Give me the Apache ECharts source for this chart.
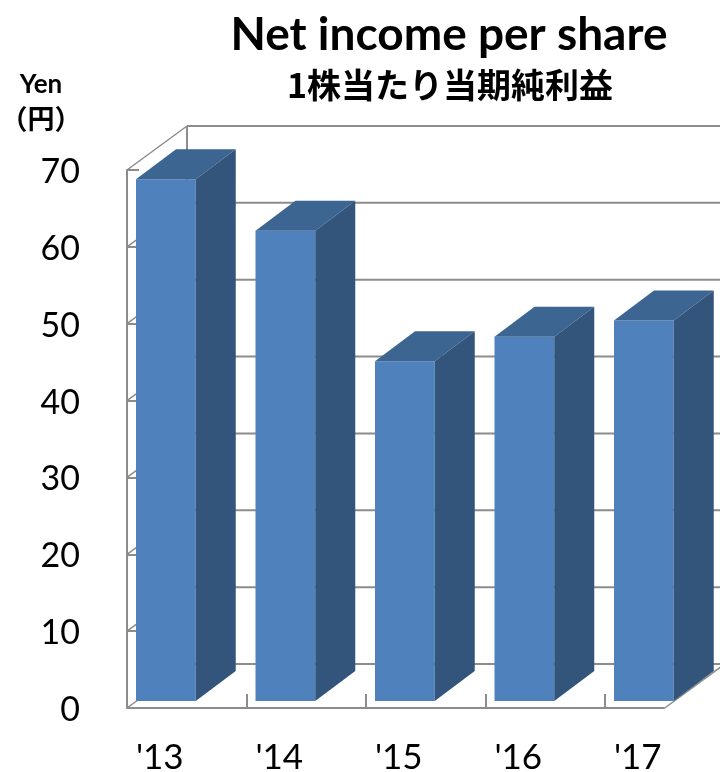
<!DOCTYPE html>
<html lang="ja">

<head>
  <meta charset="UTF-8">
  <title>Net income per share</title>
  <script src="https://cdnjs.cloudflare.com/ajax/libs/echarts/6.0.0/echarts.min.js"></script>
  <style>
    body {
      margin: 0;
      background-color: #fff;
    }
  </style>
</head>

<body>
  <div id="main" style="width: 720px;height:772px;"></div>
</body>
<script>
  const years = ["'13", "'14", "'15", "'16", "'17"];
  const netIncome = [67.9, 61.2, 44.2, 47.4, 49.5];
  const yTicks = [0, 10, 20, 30, 40, 50, 60, 70];

  // 3D look: the back wall sits up and to the right of the front plane
  const wallDx = 60, wallDy = -44;
  const barInsetX = 9, barInsetY = -7;
  const barDepthX = 40, barDepthY = -30;
  const gray = '#8c8c8c';

  function seg(x1, y1, x2, y2, width) {
    return {
      type: 'line',
      shape: { x1: x1, y1: y1, x2: x2, y2: y2 },
      style: { stroke: gray, lineWidth: width || 2 }
    };
  }

  function renderWalls(params, api) {
    const v = api.value(1);
    const p = api.coord([0, v]);
    const x0 = p[0] - api.size([1, 0])[0] / 2;
    const y = p[1];
    const children = [
      // back wall gridline and left wall diagonal
      seg(x0 + wallDx, y + wallDy, api.getWidth(), y + wallDy),
      seg(x0, y, x0 + wallDx, y + wallDy, 1.5)
    ];
    if (v === 70) {
      const bottom = api.coord([0, 0])[1];
      children.push(seg(x0 + wallDx, y + wallDy, x0 + wallDx, bottom + wallDy));
    }
    if (v === 0) {
      // floor edges end at the centre of the last category
      const end = api.coord([years.length - 1, 0])[0];
      children.push(seg(x0, y, end, y));
      children.push(seg(end, y, end + wallDx, y + wallDy, 1.5));
    }
    return { type: 'group', children: children };
  }

  function renderBar(params, api) {
    const top = api.coord([api.value(0), api.value(1)]);
    const base = api.coord([api.value(0), 0]);
    const band = api.size([1, 0])[0];
    const w = band * 0.5;
    const x = top[0] - band * 0.5 + barInsetX;
    const yTop = top[1] + barInsetY;
    const yBase = base[1] + barInsetY;
    return {
      type: 'group',
      children: [
        {
          type: 'rect',
          shape: { x: x, y: yTop, width: w, height: yBase - yTop },
          style: { fill: '#4f81bd' }
        },
        {
          type: 'polygon',
          shape: {
            points: [
              [x, yTop], [x + w, yTop],
              [x + w + barDepthX, yTop + barDepthY], [x + barDepthX, yTop + barDepthY]
            ]
          },
          style: { fill: '#3d6592' }
        },
        {
          type: 'polygon',
          shape: {
            points: [
              [x + w, yTop], [x + w + barDepthX, yTop + barDepthY],
              [x + w + barDepthX, yBase + barDepthY], [x + w, yBase]
            ]
          },
          style: { fill: '#33547b' }
        }
      ]
    };
  }

  var myChart = echarts.init(document.getElementById('main'));
  var option = {
    animation: false,
    textStyle: { fontFamily: 'Lato' },
    title: [
      {
        text: 'Net income per share', left: 449, top: 35, padding: 0, textAlign: 'center', textVerticalAlign: 'middle',
        textStyle: { fontFamily: 'Lato', fontSize: 46, fontWeight: 'bold', color: '#000' }
      },
      {
        text: '1株当たり当期純利益', left: 450, top: 85, padding: 0, textAlign: 'center', textVerticalAlign: 'middle',
        textStyle: { fontFamily: 'Noto Sans CJK JP', fontSize: 34, fontWeight: 'bold', color: '#000' }
      },
      {
        text: 'Yen', left: 41, top: 85, padding: 0, textAlign: 'center', textVerticalAlign: 'middle',
        textStyle: { fontFamily: 'Lato', fontSize: 26, fontWeight: 'bold', color: '#000' }
      },
      {
        text: '（円）', left: 41, top: 119, padding: 0, textAlign: 'center', textVerticalAlign: 'middle',
        textStyle: { fontFamily: 'Noto Sans CJK JP', fontSize: 27, fontWeight: 'bold', color: '#000' }
      }
    ],
    grid: { left: 127, top: 170, width: 597.5, height: 538, outerBoundsMode: 'none' },
    xAxis: {
      type: 'category',
      data: years,
      axisLine: { show: false },
      axisTick: { show: true, inside: true, length: 14, lineStyle: { color: gray, width: 2 } },
      axisLabel: {
        margin: 32, color: '#000', fontSize: 35, fontFamily: 'Lato',
        padding: [0, 54, 0, 0], showMaxLabel: true, hideOverlap: false
      }
    },
    yAxis: {
      type: 'value',
      min: 0,
      max: 70,
      interval: 10,
      splitLine: { show: false },
      axisLine: { show: true, onZero: false, lineStyle: { color: gray, width: 2 } },
      axisTick: { show: true, inside: true, length: 12, lineStyle: { color: gray, width: 2 } },
      axisLabel: {
        margin: 47,
        formatter: '{n|{value}}',
        rich: { n: { color: '#000', fontSize: 34, fontFamily: 'Lato', padding: [4, 0, 0, 0] } }
      }
    },
    series: [
      {
        type: 'custom',
        silent: true,
        renderItem: renderWalls,
        data: yTicks.map((v) => [0, v]),
        z: 1
      },
      {
        type: 'custom',
        silent: true,
        renderItem: renderBar,
        data: netIncome.map((v, i) => [i, v]),
        z: 5
      }
    ]
  };
  myChart.setOption(option);
</script>

</html>
